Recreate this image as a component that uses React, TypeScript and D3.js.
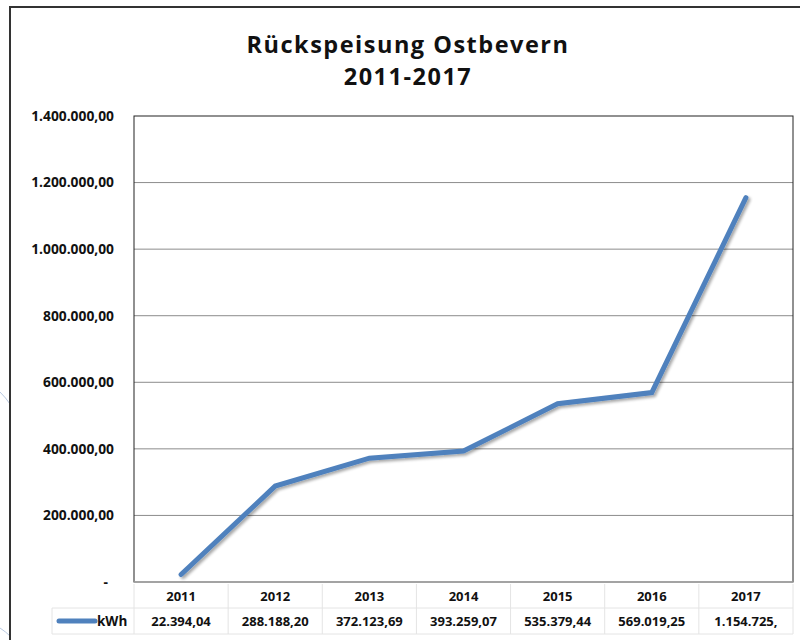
import { useEffect, useRef } from "react";
import * as d3 from "d3";

const years = ["2011", "2012", "2013", "2014", "2015", "2016", "2017"];
const kwh = [22394.04, 288188.2, 372123.69, 393259.07, 535379.44, 569019.25, 1154725];
const tableLabels = [
  "22.394,04",
  "288.188,20",
  "372.123,69",
  "393.259,07",
  "535.379,44",
  "569.019,25",
  "1.154.725,",
];
const yTicks = [0, 200000, 400000, 600000, 800000, 1000000, 1200000, 1400000];
const seriesName = "kWh";
const titleLines = ["Rückspeisung Ostbevern", "2011-2017"];

const fmt = (v: number) => {
  if (v === 0) return "-";
  const s = d3.format(",.2f")(v);
  return s.replace(/,/g, "#").replace(".", ",").replace(/#/g, ".");
};

export default function App() {
  const ref = useRef<SVGSVGElement>(null);

  useEffect(() => {
    const svg = d3.select(ref.current);
    svg.selectAll("*").remove();

    const W = 800;
    const H = 640;
    const left = 134;
    const right = 793;
    const top = 116;
    const bottom = 582;
    const font = "'Open Sans', 'Liberation Sans', sans-serif";

    const defs = svg.append("defs");
    const f = defs.append("filter").attr("id", "shadow").attr("x", "-10%").attr("y", "-10%").attr("width", "120%").attr("height", "120%");
    f.append("feGaussianBlur").attr("in", "SourceAlpha").attr("stdDeviation", 1.5);
    f.append("feOffset").attr("dx", 1.5).attr("dy", 2).attr("result", "off");
    f.append("feComponentTransfer").append("feFuncA").attr("type", "linear").attr("slope", 0.35);
    const m = f.append("feMerge");
    m.append("feMergeNode");
    m.append("feMergeNode").attr("in", "SourceGraphic");

    svg.append("rect").attr("width", W).attr("height", H).attr("fill", "#fff");

    // faint decorative arcs at left edge
    svg.append("path").attr("d", "M0,392 Q6,398 10,404").attr("fill", "none").attr("stroke", "#b8c8e0").attr("stroke-width", 1);
    svg.append("path").attr("d", "M0,628 Q6,632 10,636").attr("fill", "none").attr("stroke", "#b8c8e0").attr("stroke-width", 1);

    // outer chart frame
    svg
      .append("path")
      .attr("d", `M10,${H + 2} L10,7 L${W + 2},7`)
      .attr("fill", "none")
      .attr("stroke", "#333")
      .attr("stroke-width", 2);

    // title
    const title = svg
      .append("text")
      .attr("text-anchor", "middle")
      .attr("font-family", font)
      .attr("font-weight", "bold")
      .attr("font-size", 23.5)
      .attr("letter-spacing", 1.5)
      .attr("fill", "#111");
    titleLines.forEach((t, i) => {
      title
        .append("tspan")
        .attr("x", 408)
        .attr("y", 53 + i * 32)
        .text(t);
    });

    const x = d3.scaleBand().domain(years).range([left, right]);
    const y = d3.scaleLinear().domain([0, 1400000]).range([bottom, top]);

    // gridlines
    svg
      .append("g")
      .selectAll("line")
      .data(yTicks.filter((t) => t > 0 && t < 1400000))
      .join("line")
      .attr("x1", left)
      .attr("x2", right)
      .attr("y1", (d) => y(d))
      .attr("y2", (d) => y(d))
      .attr("stroke", "#8c8c8c")
      .attr("stroke-width", 1);

    // plot frame
    svg
      .append("rect")
      .attr("x", left)
      .attr("y", top)
      .attr("width", right - left)
      .attr("height", bottom - top)
      .attr("fill", "none")
      .attr("stroke", "#222")
      .attr("stroke-width", 1);
    svg
      .append("line")
      .attr("x1", left)
      .attr("x2", right)
      .attr("y1", bottom)
      .attr("y2", bottom)
      .attr("stroke", "#aaa")
      .attr("stroke-width", 1.5);

    // y labels
    svg
      .append("g")
      .selectAll("text")
      .data(yTicks)
      .join("text")
      .attr("x", (d) => (d === 0 ? 108 : 114))
      .attr("y", (d) => y(d))
      .attr("dy", "0.35em")
      .attr("text-anchor", "end")
      .attr("font-family", font)
      .attr("font-weight", "bold")
      .attr("font-size", 13.8)
      .attr("fill", "#111")
      .text((d) => fmt(d));

    // line
    const line = d3
      .line<number>()
      .x((_, i) => (x(years[i]) as number) + x.bandwidth() / 2)
      .y((d) => y(d));
    svg
      .append("path")
      .datum(kwh)
      .attr("d", line)
      .attr("fill", "none")
      .attr("stroke", "#4f81bd")
      .attr("stroke-width", 5)
      .attr("stroke-linejoin", "miter")
      .attr("stroke-linecap", "round")
      .attr("filter", "url(#shadow)");

    // data table
    const rowTop = 584;
    const rowMid = 608;
    const rowBot = 634;
    const tbl = svg.append("g");
    const gridColor = "#e4e4e4";
    tbl.append("line").attr("x1", 52).attr("x2", right).attr("y1", rowMid).attr("y2", rowMid).attr("stroke", gridColor);
    tbl.append("line").attr("x1", 52).attr("x2", right).attr("y1", rowBot).attr("y2", rowBot).attr("stroke", gridColor);
    tbl.append("line").attr("x1", 52).attr("x2", 52).attr("y1", rowMid).attr("y2", rowBot).attr("stroke", gridColor);
    tbl
      .selectAll("line.sep")
      .data(years)
      .join("line")
      .attr("class", "sep")
      .attr("x1", (d) => (x(d) as number) + x.bandwidth())
      .attr("x2", (d) => (x(d) as number) + x.bandwidth())
      .attr("y1", rowTop)
      .attr("y2", rowBot)
      .attr("stroke", gridColor);
    tbl.append("line").attr("x1", left).attr("x2", left).attr("y1", rowTop).attr("y2", rowBot).attr("stroke", gridColor);

    tbl
      .selectAll("text.year")
      .data(years)
      .join("text")
      .attr("class", "year")
      .attr("x", (d) => (x(d) as number) + x.bandwidth() / 2)
      .attr("y", 596)
      .attr("dy", "0.35em")
      .attr("text-anchor", "middle")
      .attr("font-family", font)
      .attr("font-weight", "bold")
      .attr("font-size", 13)
      .attr("fill", "#111")
      .text((d) => d);

    tbl
      .selectAll("text.val")
      .data(tableLabels)
      .join("text")
      .attr("class", "val")
      .attr("x", (_, i) => (x(years[i]) as number) + x.bandwidth() / 2)
      .attr("y", 621)
      .attr("dy", "0.35em")
      .attr("text-anchor", "middle")
      .attr("font-family", font)
      .attr("font-weight", "bold")
      .attr("font-size", 13)
      .attr("fill", "#111")
      .text((d) => d);

    // legend key
    tbl
      .append("line")
      .attr("x1", 59)
      .attr("x2", 95)
      .attr("y1", 621)
      .attr("y2", 621)
      .attr("stroke", "#4f81bd")
      .attr("stroke-width", 5)
      .attr("stroke-linecap", "round");
    tbl
      .append("text")
      .attr("x", 97)
      .attr("y", 621)
      .attr("dy", "0.35em")
      .attr("font-family", font)
      .attr("font-weight", "bold")
      .attr("font-size", 13.5)
      .attr("fill", "#111")
      .text(seriesName);
  }, []);

  return (
    <svg
      ref={ref}
      width={800}
      height={640}
      style={{ position: "absolute", left: 0, top: 0 }}
    />
  );
}
